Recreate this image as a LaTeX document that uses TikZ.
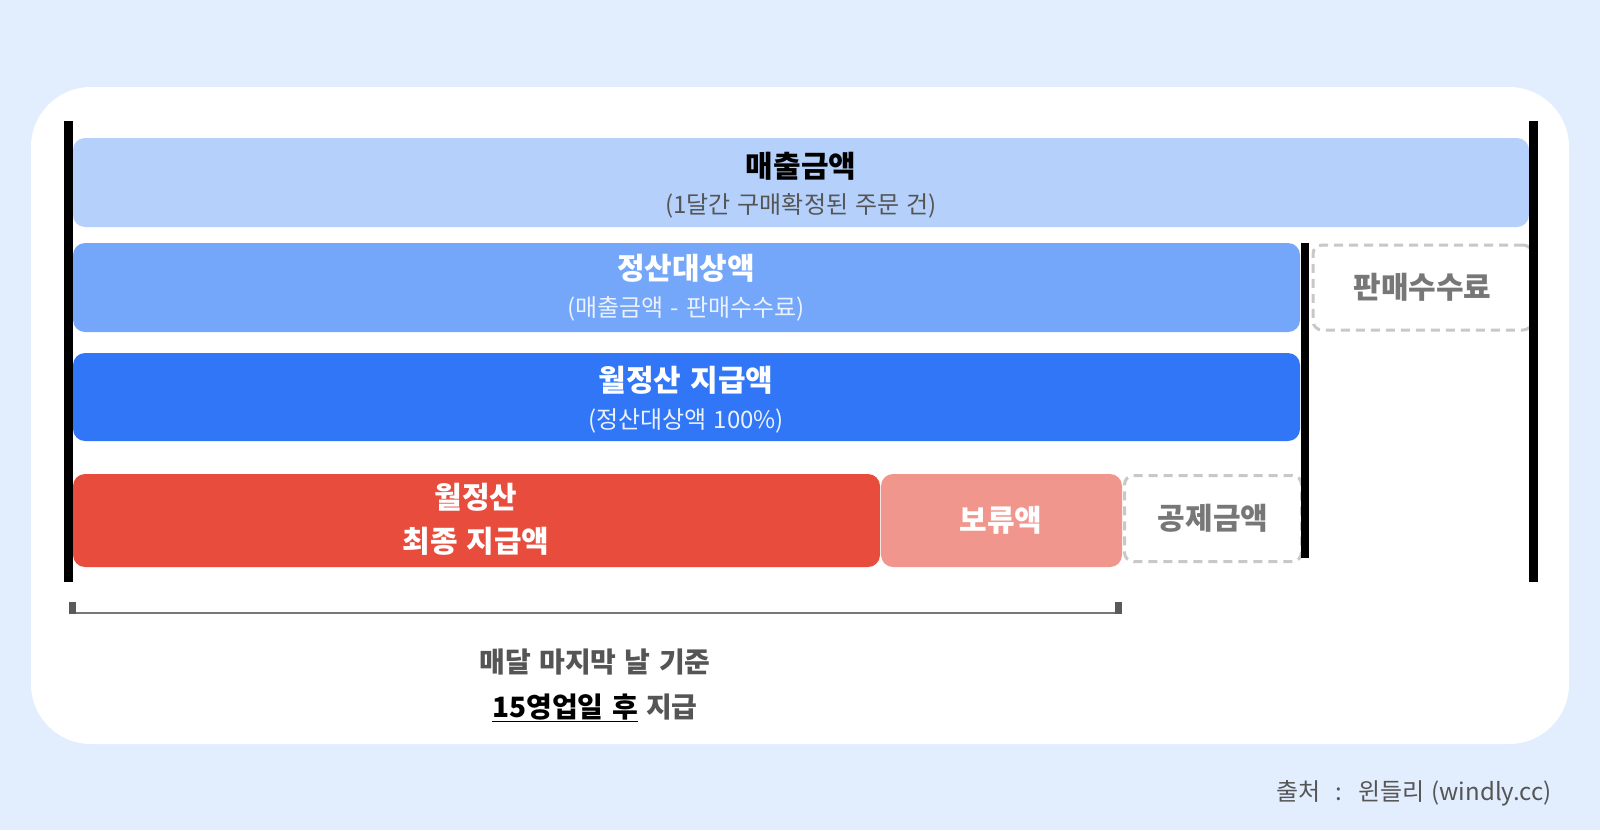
\documentclass[tikz,border=0pt]{standalone}
\usepackage{fontspec}
\setmainfont{Noto Sans CJK KR}
\definecolor{bgblue}{HTML}{E2EEFE}
\definecolor{barA}{HTML}{B4D0FB}
\definecolor{barB}{HTML}{74A6F9}
\definecolor{barC}{HTML}{3076F6}
\definecolor{barR}{HTML}{E74C3C}
\definecolor{barP}{HTML}{F0968D}
\definecolor{dashgray}{HTML}{C8C8C8}
\definecolor{txtgray}{HTML}{777777}
\definecolor{subgray}{HTML}{555555}
\definecolor{subwhite}{HTML}{EAF2FF}
\definecolor{tickgray}{HTML}{5A5A5A}
\newcommand{\fsz}[1]{\fontsize{#1}{#1}\selectfont\spaceskip=0.3em\relax}
\begin{document}
\begin{tikzpicture}[x=1pt,y=-1pt,
  barbox/.style={rounded corners=12pt, inner sep=0pt, draw=none},
  dashbox/.style={draw=dashgray, line width=3pt, dash pattern=on 9pt off 6pt, rounded corners=9pt, inner sep=0pt, text=txtgray, font=\fsz{30}\bfseries},
  ttl/.style={inner sep=0pt, font=\fsz{30}\bfseries},
  sub/.style={inner sep=0pt, font=\fsz{24}},
  vbar/.style={fill=black}]
\useasboundingbox (0,0) rectangle (1600,830);
\fill[bgblue] (0,0) rectangle (1600,830);
\fill[white, rounded corners=60pt] (31,87) rectangle (1569,744);
% bars
\node[barbox, fill=barA, minimum width=1456pt, minimum height=89pt] (sales) at (801,182.5) {};
\node[barbox, fill=barB, minimum width=1227pt, minimum height=89pt] (target) at (686.5,287.5) {};
\node[barbox, fill=barC, minimum width=1227pt, minimum height=88pt] (monthly) at (686.5,397) {};
\node[barbox, fill=barR, minimum width=807pt, minimum height=93pt] (final) at (476.5,520.5) {};
\node[barbox, fill=barP, minimum width=241pt, minimum height=93pt] (hold) at (1001.5,520.5) {};
% dashed boxes
\node[dashbox, minimum width=219pt, minimum height=85pt] (fee) at (1422.5,287.5) {판매수수료};
\node[dashbox, minimum width=177pt, minimum height=86pt] (deduct) at (1213,518.5) {공제금액};
% vertical black bars
\fill[vbar] (64,121) rectangle (73,582);
\fill[vbar] (1301,243) rectangle (1309,558);
\fill[vbar] (1529,121) rectangle (1538,582);
% texts in bars
\node[ttl, text=black] (salesT) at (801,166) {매출금액};
\node[sub, text=subgray] (salesS) at (801,206) {(1달간 구매확정된 주문 건)};
\node[ttl, text=white] (targetT) at (686,268) {정산대상액};
\node[sub, text=subwhite] (targetS) at (686,309) {(매출금액 - 판매수수료)};
\node[ttl, text=white] (monthlyT) at (686,380) {월정산 지급액};
\node[sub, text=subwhite] (monthlyS) at (686,421) {(정산대상액 100\%)};
\node[ttl, text=white] (finalT1) at (476,497) {월정산};
\node[ttl, text=white] (finalT2) at (476,541) {최종 지급액};
\node[ttl, text=white] (holdT) at (1001,520) {보류액};
% bracket
\coordinate (bl) at (72,613);
\coordinate (br) at (1118,613);
\draw[txtgray, line width=2pt] (bl) -- (br);
\fill[tickgray] (69,602) rectangle (76,614);
\fill[tickgray] (1115,602) rectangle (1122,614);
% bottom text
\node[inner sep=0pt, font=\fsz{28}\bfseries, text=subgray] (when1) at (595,662) {매달 마지막 날 기준};
\node[inner sep=0pt, font=\fsz{28}\bfseries, text=subgray] (when2) at (595,708) {\textcolor{black}{\underline{15영업일 후}} 지급};
% footer
\node[inner sep=0pt, anchor=east, font=\fsz{24}, text=subgray] (src) at (1552,793) {출처 \ : \ 윈들리 (windly.cc)};
\end{tikzpicture}
\end{document}
